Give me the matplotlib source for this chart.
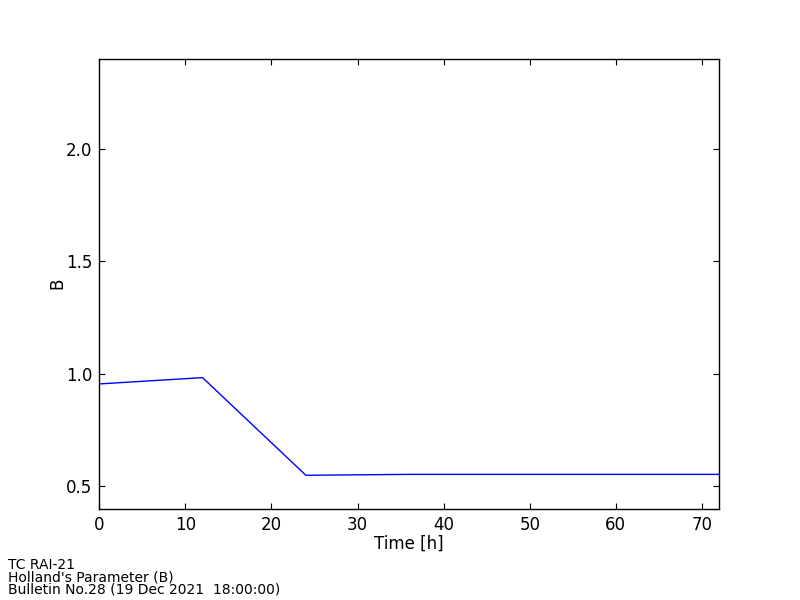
import matplotlib
matplotlib.use('Agg')
import matplotlib.pyplot as plt

hours = [0, 12, 24, 36, 48, 60, 72]
holland_b = [0.955, 0.983, 0.549, 0.553, 0.553, 0.553, 0.553]
info_lines = ["TC RAI-21", "Holland's Parameter (B)", "Bulletin No.28 (19 Dec 2021  18:00:00)"]

plt.rcParams['font.family'] = 'DejaVu Sans'
fig = plt.figure(figsize=(8, 6), dpi=100)
ax = fig.add_axes([0.124, 0.152, 0.775, 0.75])

ax.plot(hours, holland_b, color='blue', linewidth=1.0)
ax.set_xlim(0, 72)
ax.set_ylim(0.4, 2.4)
ax.set_yticks([0.5, 1.0, 1.5, 2.0])
ax.set_xlabel('Time [h]', fontsize=12, labelpad=1)
ax.set_ylabel('B', fontsize=12, labelpad=0)
ax.tick_params(direction='in', length=4, width=0.8, top=True, right=True, labelsize=12, pad=5)
for s in ax.spines.values():
    s.set_linewidth(1.0)

fig.text(0.01, 0.006, '\n'.join(info_lines), fontsize=10, ha='left', va='bottom', linespacing=0.85)

fig.savefig('out.png', dpi=100)
